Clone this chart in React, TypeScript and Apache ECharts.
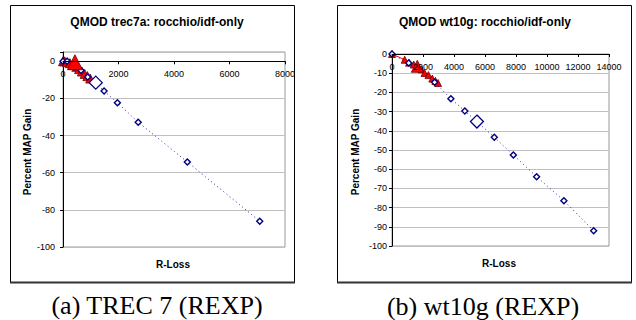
import React, { useEffect, useRef } from "react";
import * as echarts from "echarts";

// Panel (a) TREC 7
const trec7BlueLoss = [0, 150, 410, 650, 890, 1180, 1480, 1960, 2710, 4480, 7090];
const trec7BlueGain = [0, 0, -3.1, -4.9, -8.5, -11.5, -16, -22.3, -32.8, -54.2, -86.1];
const trec7RedLoss = [0, 60, 150, 250, 350, 480, 580, 680, 780, 880, 980];
const trec7RedGain = [0, 0, -0.5, -1, -2, -3, -4.2, -5.5, -6.8, -8, -9.3];
const trec7BigBlue = [1180, -11.5];
const trec7BigRed = [430, -0.5];

// Panel (b) wt10g
const wt10gBlueLoss = [0, 1080, 2750, 3800, 4700, 5480, 6600, 7830, 9330, 11090, 13010];
const wt10gBlueGain = [0, -4.7, -14.7, -23.3, -29.7, -35.2, -43.4, -52.6, -63.9, -76.4, -92];
const wt10gRedLoss = [0, 820, 1100, 1400, 1900, 2100, 2350, 2600, 2800, 2970];
const wt10gRedGain = [0, -3, -4.5, -5.5, -8, -9.9, -11, -12.8, -14, -15.1];
const wt10gBigBlue = [5480, -35.2];
const wt10gBigRed = [1634, -6.4];

const titles = ["QMOD trec7a: rocchio/idf-only", "QMOD wt10g: rocchio/idf-only"];
const captions = ["(a) TREC 7 (REXP)", "(b) wt10g (REXP)"];
const xName = "R-Loss";
const yName = "Percent MAP Gain";

const zip = (xs: number[], ys: number[]) => xs.map((x, i) => [x, ys[i]]);

const SANS = "'Liberation Sans', Arial, sans-serif";
const SERIF = "'Liberation Serif', 'Times New Roman', serif";

function xAxisCfg(gridIndex: number, max: number, offset: number) {
  return {
    type: "value",
    gridIndex,
    position: "bottom",
    offset,
    min: 0,
    max,
    interval: 2000,
    axisLine: { onZero: false, lineStyle: { color: "#000", width: 1 } },
    axisTick: { show: true, length: 3, lineStyle: { color: "#000" } },
    axisLabel: {
      fontFamily: SANS,
      fontSize: 9,
      color: "#000",
      margin: 8,
      formatter: (v: number) => String(v),
    },
    splitLine: { show: false },
    z: 5,
  };
}

function yAxisCfg(gridIndex: number, max: number, interval: number, margin: number) {
  return {
    type: "value",
    gridIndex,
    min: -100,
    max,
    interval,
    axisLine: { onZero: false, lineStyle: { color: "#000", width: 1 } },
    axisTick: { show: true, length: 3, lineStyle: { color: "#000" } },
    axisLabel: {
      fontFamily: SANS,
      fontSize: 9,
      color: "#000",
      margin,
      formatter: (v: number) => (Math.round(v) % interval === 0 ? String(v) : ""),
    },
    splitLine: { show: true, lineStyle: { color: "#c0c0c0", width: 1 } },
  };
}

function seriesFor(
  idx: number,
  bl: number[],
  bg: number[],
  rl: number[],
  rg: number[],
  bigB: number[],
  bigR: number[],
  redSize: number,
  bigRedSize: number
) {
  return [
    {
      type: "line",
      xAxisIndex: idx,
      yAxisIndex: idx,
      data: zip(rl, rg),
      symbol: "triangle",
      symbolSize: redSize,
      showAllSymbol: true,
      lineStyle: { color: "#ff0000", width: 1 },
      itemStyle: { color: "#ff0000", borderColor: "#700000", borderWidth: 0.8, opacity: 1 },
      z: 2,
    },
    {
      type: "line",
      xAxisIndex: idx,
      yAxisIndex: idx,
      data: zip(bl, bg),
      symbol: "diamond",
      symbolSize: 6,
      showAllSymbol: true,
      lineStyle: { color: "#2a2ab0", width: 1, type: [1, 3] },
      itemStyle: { color: "#ffffff", borderColor: "#000080", borderWidth: 1.4, opacity: 1 },
      z: 3,
    },
    {
      type: "scatter",
      xAxisIndex: idx,
      yAxisIndex: idx,
      data: [bigR],
      symbol: "triangle",
      symbolSize: bigRedSize,
      itemStyle: { color: "#ff0000", borderColor: "#700000", borderWidth: 0.8, opacity: 1 },
      z: 4,
    },
    {
      type: "scatter",
      xAxisIndex: idx,
      yAxisIndex: idx,
      data: [bigB],
      symbol: "diamond",
      symbolSize: 13,
      itemStyle: { color: "#ffffff", borderColor: "#000080", borderWidth: 1.3, opacity: 1 },
      z: 4,
    },
  ];
}

function txt(x: number, y: number, text: string, font: string, rotation = 0) {
  return {
    type: "text",
    x,
    y,
    rotation,
    z: 10,
    style: {
      text,
      font,
      fill: "#000",
      textAlign: "center",
      textVerticalAlign: "middle",
      align: "center",
      verticalAlign: "middle",
    },
  };
}

function frame(x1: number, x2: number) {
  return [
    {
      type: "rect",
      shape: { x: x1 + 0.5, y: 5.5, width: x2 - x1, height: 277 },
      style: { fill: "none", stroke: "#000", lineWidth: 1 },
      z: 0,
    },
    {
      type: "line",
      shape: { x1: x1, y1: 282.5, x2: x2 + 1, y2: 282.5 },
      style: { stroke: "#333", lineWidth: 2 },
      z: 0,
    },
  ];
}

export default function App() {
  const ref = useRef<HTMLDivElement>(null);
  useEffect(() => {
    if (!ref.current) return;
    const chart = echarts.init(ref.current, null, { renderer: "svg" });
    const leftTop = 52;
    const leftH = 195;
    const leftMax = 5;
    const leftZeroOffset = -(leftH * (100 / (100 + leftMax)));
    const rightH = 192;
    chart.setOption({
      animation: false,
      backgroundColor: "#ffffff",
      grid: [
        { left: 63, top: leftTop, width: 222, height: leftH, show: true, borderColor: "#999", borderWidth: 1, backgroundColor: "#fff" },
        { left: 392, top: 54, width: 217, height: rightH, show: true, borderColor: "#999", borderWidth: 1, backgroundColor: "#fff" },
      ],
      xAxis: [xAxisCfg(0, 8000, leftZeroOffset), xAxisCfg(1, 14000, -rightH)],
      yAxis: [yAxisCfg(0, leftMax, 20, 8), yAxisCfg(1, 0, 10, 5)],
      series: [
        ...seriesFor(0, trec7BlueLoss, trec7BlueGain, trec7RedLoss, trec7RedGain, trec7BigBlue, trec7BigRed, 9, 15),
        ...seriesFor(1, wt10gBlueLoss, wt10gBlueGain, wt10gRedLoss, wt10gRedGain, wt10gBigBlue, wt10gBigRed, 7, 12),
      ],
      graphic: [
        ...frame(10, 294),
        ...frame(337, 631),
        txt(157, 22, titles[0], `bold 12px ${SANS}`),
        txt(485, 22, titles[1], `bold 12px ${SANS}`),
        txt(173, 264, xName, `bold 10px ${SANS}`),
        txt(499, 263, xName, `bold 10px ${SANS}`),
        txt(27, 152, yName, `bold 10px ${SANS}`, Math.PI / 2),
        txt(355, 152, yName, `bold 10px ${SANS}`, Math.PI / 2),
        txt(157, 305, captions[0], `26px ${SERIF}`),
        txt(483, 306, captions[1], `26px ${SERIF}`),
      ],
    });
    return () => chart.dispose();
  }, []);
  return (
    <div
      ref={ref}
      style={{ position: "fixed", left: 0, top: 0, width: 636, height: 320 }}
    />
  );
}
